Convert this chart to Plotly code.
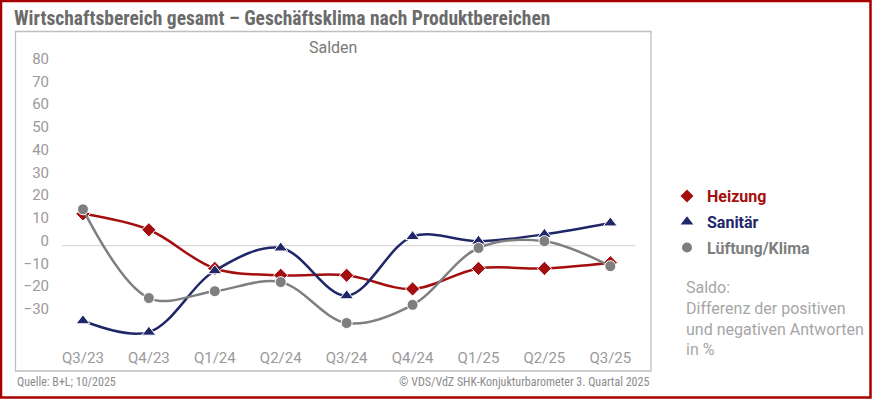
import plotly.graph_objects as go

quarters = ["Q3/23", "Q4/23", "Q1/24", "Q2/24", "Q3/24", "Q4/24", "Q1/25", "Q2/25", "Q3/25"]
heizung = [14, 7, -10, -13, -13, -19, -10, -10, -7.5]
sanitaer = [-33, -38, -11, -1, -22, 4, 2, 5, 10]
lueftung = [16, -23, -20, -16, -34, -26, -1, 2, -9]
y_ticks = [80, 70, 60, 50, 40, 30, 20, 10, 0, -10, -20, -30]

C_HEIZ = "#A50E0E"
C_SAN = "#1F2769"
C_LUE = "#7F7F7F"
TXT = "#9A9A9A"

W, H = 872, 399
L, R, T, B = 50, 232, 40, 57
PW, PH = W - L - R, H - T - B

def px_x(p):
    return (p - L) / PW

def px_y(p):
    return (H - B - p) / PH

series = [
    ("Heizung", heizung, C_HEIZ, "diamond", 11),
    ("Sanitär", sanitaer, C_SAN, "triangle-up", 12),
    ("Lüftung/Klima", lueftung, C_LUE, "circle", 11),
]

fig = go.Figure()
for name, vals, col, sym, sz in series:
    fig.add_trace(go.Scatter(
        x=list(range(len(quarters))), y=vals, mode="lines+markers",
        line=dict(color=col, width=2.5, shape="spline", smoothing=1.0),
        marker=dict(symbol=sym, size=sz, color=col, line=dict(color="white", width=1)),
        showlegend=False, name=name))
for name, vals, col, sym, sz in series:
    fig.add_trace(go.Scatter(
        x=[None], y=[None], mode="markers",
        marker=dict(symbol=sym, size=sz - 1, color=col),
        name=f"<b><span style='color:{col}'>{name}</span></b>",
        legendgroup=name, showlegend=True))

shapes = [
    dict(type="line", xref="x", yref="y", x0=-0.32, x1=8.38, y0=0, y1=0,
         line=dict(color="#D9D9D9", width=1.3), layer="below"),
    dict(type="rect", xref="paper", yref="paper",
         x0=px_x(15.5), x1=px_x(651), y0=px_y(371), y1=px_y(31.5),
         line=dict(color="#BFBFBF", width=1.3), layer="below"),
    dict(type="rect", xref="paper", yref="paper",
         x0=px_x(1), x1=px_x(870.5), y0=px_y(397.5), y1=px_y(1),
         line=dict(color="#A80000", width=2.5), layer="above"),
]

COND = "Roboto Condensed, Liberation Sans Narrow, Roboto"
annotations = [
    dict(text="<b>Wirtschaftsbereich gesamt – Geschäftsklima nach Produktbereichen</b>",
         xref="paper", yref="paper", x=px_x(12), y=px_y(18), xanchor="left", yanchor="middle",
         showarrow=False, font=dict(size=19.5, color="#6B6B6B", family=COND)),
    dict(text="Salden", xref="paper", yref="paper", x=px_x(333), y=px_y(47),
         xanchor="center", yanchor="middle", showarrow=False,
         font=dict(size=16, color="#7A7A7A", family="Roboto")),
    dict(text="Saldo:<br>Differenz der positiven<br>und negativen Antworten<br>in %",
         xref="paper", yref="paper", x=px_x(684), y=px_y(276), xanchor="left", yanchor="top",
         align="left", showarrow=False,
         font=dict(size=16, color="#A6A6A6", family="Roboto")),
    dict(text="Quelle: B+L; 10/2025", xref="paper", yref="paper", x=px_x(15), y=px_y(382),
         xanchor="left", yanchor="middle", showarrow=False,
         font=dict(size=12, color="#8C8C8C", family=COND)),
    dict(text="© VDS/VdZ SHK-Konjukturbarometer 3. Quartal 2025", xref="paper", yref="paper",
         x=px_x(651), y=px_y(382), xanchor="right", yanchor="middle", showarrow=False,
         font=dict(size=12, color="#8C8C8C", family=COND)),
]

fig.update_layout(
    width=W, height=H,
    margin=dict(l=L, r=R, t=T, b=B, pad=0),
    paper_bgcolor="white", plot_bgcolor="white",
    font=dict(family="Roboto", color=TXT),
    shapes=shapes, annotations=annotations,
    legend=dict(x=px_x(667), y=px_y(179), xanchor="left", yanchor="top",
                font=dict(size=16, family="Roboto"), tracegroupgap=2,
                bgcolor="rgba(0,0,0,0)", itemwidth=30),
    xaxis=dict(range=[-0.5, 8.45], tickvals=list(range(len(quarters))), ticktext=quarters,
               showgrid=False, zeroline=False, showline=False, ticks="",
               tickfont=dict(size=15, color=TXT), ticklabelstandoff=5),
    yaxis=dict(range=[(245.7 - (H - B)) / 2.275, (245.7 - T) / 2.275],
               tickvals=y_ticks, showgrid=False, zeroline=False, showline=False, ticks="",
               tickfont=dict(size=15, color=TXT), ticklabelshift=-5),
)

fig.write_html("out.html", config={"displayModeBar": False},
               post_script="document.body.style.margin='0';document.body.style.overflow='hidden';")
